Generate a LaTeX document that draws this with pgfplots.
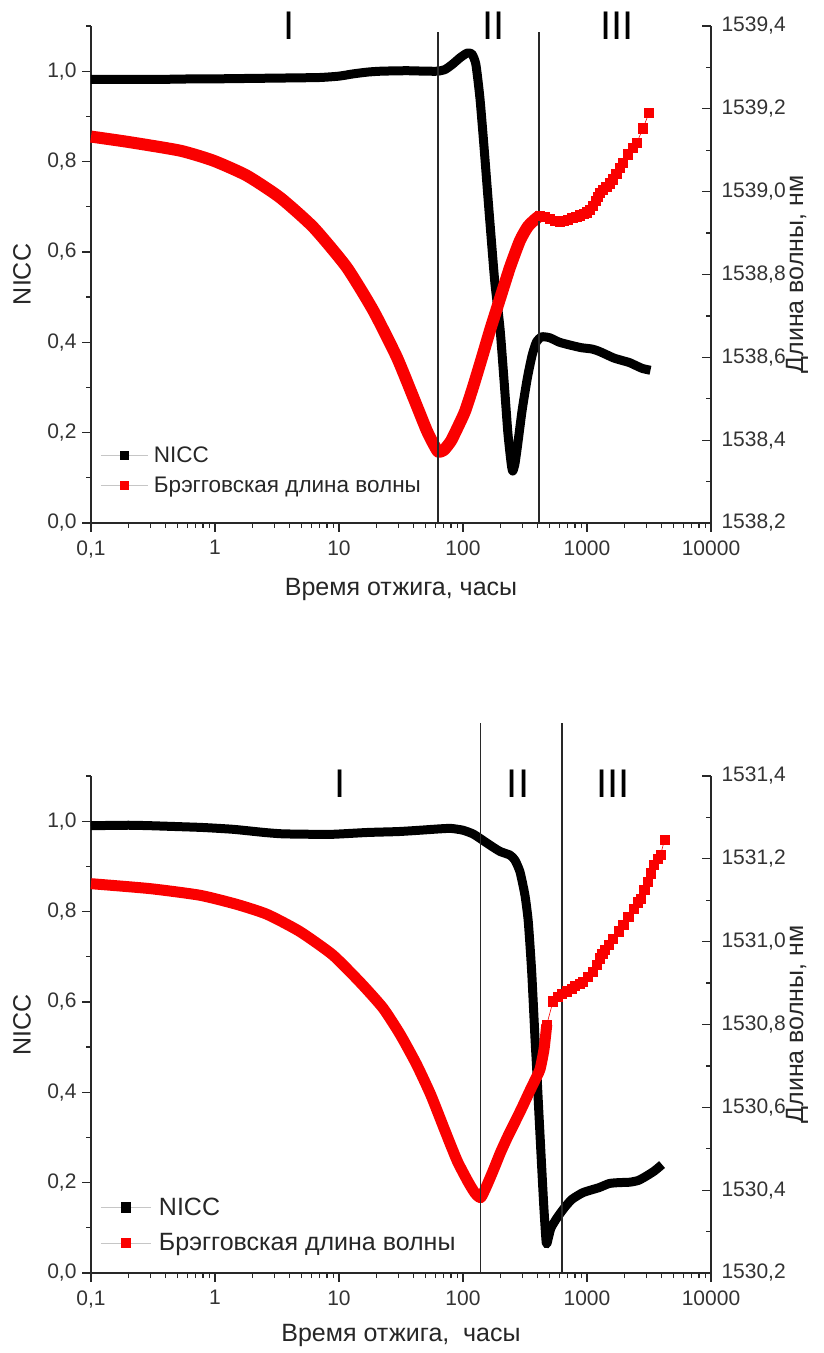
\documentclass[border=0pt]{standalone}
\usepackage{fontspec}
\setmainfont{Liberation Sans}
\usepackage{pgfplots}
\pgfplotsset{compat=1.18}

\definecolor{braggred}{RGB}{250,0,0}
\definecolor{axisgray}{RGB}{40,40,40}

% shared look of all four axes
\pgfplotsset{
  every axis/.append style={
    scale only axis, width=620pt, height=497pt,
    xmode=log, xmin=0.1, xmax=10000,
    clip=false,
    axis line style={line width=1.4pt, draw=axisgray},
    major tick style={line width=1.2pt, draw=axisgray},
    minor tick style={line width=1.2pt, draw=axisgray},
    major tick length=9pt, minor tick length=5pt,
    tick label style={font=\fontsize{21}{25}\selectfont, text=black!80},
    label style={font=\fontsize{25}{30}\selectfont, text=black!85},
  },
  nicc line/.style={black, line width=9pt, line join=round, line cap=butt, smooth, tension=0.35},
  bragg band/.style={braggred, line width=12pt, line join=round, line cap=butt, smooth, tension=0.35},
  bragg dots/.style={braggred, line width=0.6pt, mark=square*, mark size=4.6pt, mark options={solid, fill=braggred, draw=braggred}},
  stage line/.style={axisgray, line width=1.6pt},
}
\tikzset{stage/.style={font=\fontsize{40}{48}\selectfont, text=black}}

\begin{document}
\begin{tikzpicture}
\path[use as bounding box] (0pt,0pt) rectangle (823pt,1353pt);

% ---------------- upper panel ----------------
\begin{axis}[at={(91pt,830pt)}, anchor=south west,
  axis x line*=bottom, axis y line*=left, tick align=outside,
  xtick={0.1,1,10,100,1000,10000},
  xticklabels={{0,1},1,10,100,1000,10000},
  xticklabel style={yshift=-5pt},
  minor xtick={0.2,0.3,0.4,0.5,0.6,0.7,0.8,0.9,2,3,4,5,6,7,8,9,20,30,40,50,60,70,80,90,200,300,400,500,600,700,800,900,2000,3000,4000,5000,6000,7000,8000,9000},
  ymin=0, ymax=1.1,
  ytick={0,0.2,0.4,0.6,0.8,1.0},
  minor ytick={0.1,0.3,0.5,0.7,0.9,1.1},
  yticklabel style={xshift=-2pt, /pgf/number format/.cd, fixed, fixed zerofill, precision=1, use comma, assume math mode=true, /tikz/.cd},
  ylabel={NICC},
  ylabel style={at={(rel axis cs:0,0.5)}, anchor=center, yshift=69pt},
  xlabel={Время отжига, часы},
  xlabel style={at={(rel axis cs:0.5,0)}, anchor=center, yshift=-67pt}]
\addplot[nicc line] coordinates {
 (0.1,0.982) (0.15,0.982) (0.25,0.982) (0.4,0.982) (0.7,0.983) (1,0.983)
 (2,0.984) (4,0.985) (7,0.986) (10,0.989) (13,0.994) (17,0.998) (22,1.000)
 (35,1.001) (50,1.000) (63,1.000) (72,1.004) (82,1.015) (95,1.030) (108,1.040)
 (118,1.038) (127,1.015) (137,0.94) (148,0.83) (159,0.72) (170,0.62) (181,0.53)
 (199,0.43) (215,0.31) (230,0.20) (245,0.13) (252,0.115) (262,0.13) (275,0.17)
 (300,0.25) (330,0.32) (360,0.37) (390,0.40) (430,0.412) (500,0.41) (600,0.40)
 (750,0.393) (900,0.388) (1100,0.385) (1250,0.38) (1450,0.372) (1650,0.365)
 (1900,0.36) (2200,0.355) (2500,0.348) (2800,0.342) (3250,0.338)
};
\end{axis}

\begin{axis}[at={(91pt,830pt)}, anchor=south west,
  axis x line=none, axis y line*=right, tick align=inside,
  ymin=1538.2, ymax=1539.4,
  ytick={1538.2,1538.4,1538.6,1538.8,1539.0,1539.2,1539.4},
  minor ytick={1538.3,1538.5,1538.7,1538.9,1539.1,1539.3},
  yticklabel style={xshift=7pt, /pgf/number format/.cd, fixed, fixed zerofill, precision=1, use comma, 1000 sep={}, assume math mode=true, /tikz/.cd},
  ylabel={Длина волны, нм},
  ylabel style={at={(rel axis cs:1,0.5)}, anchor=center, yshift=-86pt},
  legend cell align=left,
  legend image code/.code={
    \draw[gray!45, line width=0.8pt] (0pt,0pt) -- (47pt,0pt);
    \draw[#1] plot coordinates {(23.5pt,0pt)};
  },
  legend style={at={(rel axis cs:0.0145,0.158)}, anchor=north west,
    draw=none, fill=none, inner sep=0pt,
    font=\fontsize{22.5}{27}\selectfont, text=black!85,
    nodes={inner sep=2pt}, row sep=9pt,
    /tikz/every odd column/.append style={column sep=4pt}}]
\addlegendimage{black, mark=square*, mark size=4.3pt}
\addlegendentry{NICC}
\addlegendimage{braggred, mark=square*, mark size=4.3pt}
\addlegendentry{Брэгговская длина волны}
\addplot[bragg band, forget plot] coordinates {
 (0.1,1539.133) (0.2,1539.120) (0.523,1539.099) (0.968,1539.075) (1.8,1539.039)
 (3.34,1538.986) (6.21,1538.914) (11.5,1538.818) (18.9,1538.713) (29.2,1538.601)
 (39.7,1538.504) (50.9,1538.424) (58,1538.390) (63.2,1538.372) (70,1538.376)
 (80,1538.398) (92,1538.435) (104,1538.470) (121,1538.530) (145,1538.608)
 (167,1538.670) (199,1538.742) (239,1538.817) (288,1538.882) (334,1538.916)
 (388,1538.935) (418,1538.942)
};
\addplot[bragg dots, forget plot] coordinates {
 (418,1538.942) (460,1538.940) (500,1538.935) (550,1538.930) (600,1538.928)
 (650,1538.930) (700,1538.933) (760,1538.937) (820,1538.940) (880,1538.943)
 (940,1538.946) (1000,1538.950) (1060,1538.957) (1117,1538.965) (1170,1538.978)
 (1220,1538.988) (1274,1538.997) (1350,1539.005) (1430,1539.012) (1520,1539.020)
 (1622,1539.030) (1720,1539.043) (1835,1539.058) (1950,1539.070) (2144,1539.090)
 (2330,1539.105) (2520,1539.118) (2830,1539.153) (3160,1539.190)
};
% stage boundaries
\addplot[stage line, forget plot] coordinates {(63.2,1538.2) (63.2,1539.386)};
\addplot[stage line, forget plot] coordinates {(412,1538.2) (412,1539.386)};
\node[stage] at (axis cs:3.95,1539.40) {I};
\node[stage] at (axis cs:175,1539.40) {II};
\node[stage] at (axis cs:1746,1539.40) {III};
\end{axis}

% ---------------- lower panel ----------------
\begin{axis}[at={(91pt,80pt)}, anchor=south west,
  axis x line*=bottom, axis y line*=left, tick align=outside,
  xtick={0.1,1,10,100,1000,10000},
  xticklabels={{0,1},1,10,100,1000,10000},
  xticklabel style={yshift=-5pt},
  minor xtick={0.2,0.3,0.4,0.5,0.6,0.7,0.8,0.9,2,3,4,5,6,7,8,9,20,30,40,50,60,70,80,90,200,300,400,500,600,700,800,900,2000,3000,4000,5000,6000,7000,8000,9000},
  ymin=0, ymax=1.1,
  ytick={0,0.2,0.4,0.6,0.8,1.0},
  minor ytick={0.1,0.3,0.5,0.7,0.9,1.1},
  yticklabel style={xshift=-2pt, /pgf/number format/.cd, fixed, fixed zerofill, precision=1, use comma, assume math mode=true, /tikz/.cd},
  ylabel={NICC},
  ylabel style={at={(rel axis cs:0,0.5)}, anchor=center, yshift=69pt},
  xlabel={Время отжига,\ \ часы},
  xlabel style={at={(rel axis cs:0.5,0)}, anchor=center, yshift=-62pt}]
\addplot[nicc line] coordinates {
 (0.1,0.990) (0.2,0.991) (0.3,0.990) (0.5,0.988) (0.8,0.986) (1.4,0.982)
 (2.5,0.975) (3.5,0.972) (6,0.971) (9,0.971) (17,0.975) (30,0.977) (45,0.980)
 (65,0.983) (80,0.984) (100,0.980) (120,0.972) (137,0.962) (165,0.947)
 (199,0.933) (239,0.925) (262,0.914) (288,0.888) (316,0.836) (336,0.778)
 (358,0.667) (381,0.518) (393,0.451) (410,0.35) (430,0.24) (450,0.14)
 (470,0.065) (490,0.08) (513,0.10) (573,0.122) (660,0.145) (756,0.163)
 (929,0.178) (1250,0.189) (1510,0.198) (1800,0.200) (2220,0.201) (2600,0.205)
 (2990,0.214) (3500,0.226) (4030,0.24)
};
\end{axis}

\begin{axis}[at={(91pt,80pt)}, anchor=south west,
  axis x line=none, axis y line*=right, tick align=inside,
  ymin=1530.2, ymax=1531.4,
  ytick={1530.2,1530.4,1530.6,1530.8,1531.0,1531.2,1531.4},
  minor ytick={1530.3,1530.5,1530.7,1530.9,1531.1,1531.3},
  yticklabel style={xshift=7pt, /pgf/number format/.cd, fixed, fixed zerofill, precision=1, use comma, 1000 sep={}, assume math mode=true, /tikz/.cd},
  ylabel={Длина волны, нм},
  ylabel style={at={(rel axis cs:1,0.5)}, anchor=center, yshift=-86pt},
  legend cell align=left,
  legend image code/.code={
    \draw[gray!45, line width=0.8pt] (0pt,0pt) -- (50pt,0pt);
    \draw[#1] plot coordinates {(25pt,0pt)};
  },
  legend style={at={(rel axis cs:0.0145,0.156)}, anchor=north west,
    draw=none, fill=none, inner sep=0pt,
    font=\fontsize{25}{30}\selectfont, text=black!85,
    nodes={inner sep=2pt}, row sep=13pt,
    /tikz/every odd column/.append style={column sep=6pt}}]
\addlegendimage{black, mark=square*, mark size=4.6pt}
\addlegendentry{NICC}
\addlegendimage{braggred, mark=square*, mark size=4.6pt}
\addlegendentry{Брэгговская длина волны}
\addplot[bragg band, line width=11pt, forget plot] coordinates {
 (0.1,1531.140) (0.3,1531.128) (0.757,1531.112) (1.5,1531.090) (2.63,1531.066)
 (4.8,1531.025) (8.9,1530.968) (15,1530.900) (22.6,1530.840) (31,1530.777)
 (42,1530.705) (55,1530.630) (73,1530.537) (90,1530.470) (110,1530.420)
 (125,1530.393) (139,1530.382) (155,1530.410) (175,1530.447) (200,1530.490)
 (230,1530.530) (260,1530.562) (300,1530.600) (340,1530.635) (380,1530.665)
 (418,1530.692) (450,1530.740) (474,1530.800)
};
\addplot[bragg dots, forget plot] coordinates {
 (474,1530.800) (532,1530.856) (580,1530.866) (630,1530.874) (690,1530.880)
 (750,1530.887) (800,1530.893) (870,1530.898) (929,1530.904) (1020,1530.915)
 (1117,1530.928) (1200,1530.945) (1274,1530.960) (1330,1530.970) (1400,1530.980)
 (1500,1530.992) (1622,1531.007) (1800,1531.025) (1965,1531.040) (2150,1531.060)
 (2370,1531.080) (2550,1531.095) (2700,1531.103) (2900,1531.125) (3070,1531.144)
 (3250,1531.165) (3440,1531.185) (3700,1531.200) (3920,1531.210) (4220,1531.246)
};
% stage boundaries
\addplot[stage line, forget plot] coordinates {(138,1530.2) (138,1531.528)};
\addplot[stage line, forget plot] coordinates {(632,1530.2) (632,1531.528)};
\node[stage] at (axis cs:10.2,1531.381) {I};
\node[stage] at (axis cs:278,1531.381) {II};
\node[stage] at (axis cs:1622,1531.381) {III};
\end{axis}
\end{tikzpicture}
\end{document}
